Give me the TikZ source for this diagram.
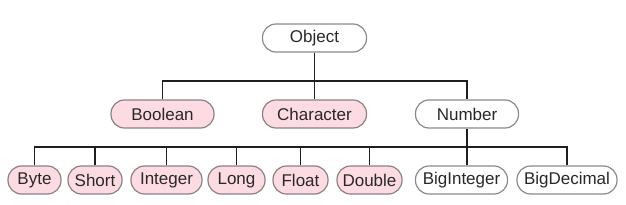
\documentclass[tikz,border=0pt]{standalone}
\usepackage{fontspec}
\setmainfont{Liberation Sans}
\definecolor{pinkfill}{HTML}{FCDCE2}
\definecolor{pinkborder}{HTML}{8E7F83}
\definecolor{greyborder}{HTML}{8A8A8A}
\definecolor{txt}{HTML}{2A272A}
\definecolor{linecol}{HTML}{1E1E1E}
\begin{document}
\begin{tikzpicture}[x=1pt,y=1pt,
  box/.style={rounded corners=13.5pt, minimum height=28pt, inner sep=0pt,
    line width=1.2pt, text=txt, font=\fontsize{17}{17}\selectfont},
  prim/.style={box, draw=pinkborder, fill=pinkfill},
  obj/.style={box, draw=greyborder, fill=white},
  conn/.style={draw=linecol, line width=1.8pt}]
\useasboundingbox (0,0) rectangle (626,204);
% top
\node[obj, minimum width=104pt] (object) at (314.5,166) {Object};
% middle
\node[prim, minimum width=103pt] (bool) at (162.5,90) {Boolean};
\node[prim, minimum width=104pt] (char) at (314.5,90) {Character};
\node[obj, minimum width=103pt] (num) at (467,90) {Number};
% leaves
\node[prim, minimum width=53pt] (byte) at (34.5,24) {Byte};
\node[prim, minimum width=54pt] (short) at (95,24) {Short};
\node[prim, minimum width=71pt] (integer) at (166.5,24) {Integer};
\node[prim, minimum width=57pt] (long) at (236.5,24) {Long};
\node[prim, minimum width=55pt] (float) at (300.5,24) {Float};
\node[prim, minimum width=65pt] (double) at (369.5,24) {Double};
\node[obj, minimum width=92pt] (bigint) at (461.5,24) {BigInteger};
\node[obj, minimum width=100pt] (bigdec) at (567,24) {BigDecimal};
% bars
\coordinate (topbar) at (0,123);
\coordinate (botbar) at (0,57);
\draw[conn] (object.south) -- (char.north);
\draw[conn] (bool.north) |- (num.north |- topbar) -- (num.north);
\draw[conn] (num.south) -- (num.south |- bigint.north);
\draw[conn] (byte.north) |- (bigdec.north |- botbar) -- (bigdec.north);
\foreach \n in {short,integer,long,float,double}
  \draw[conn] (\n.north) -- (\n.north |- botbar);
\end{tikzpicture}
\end{document}
